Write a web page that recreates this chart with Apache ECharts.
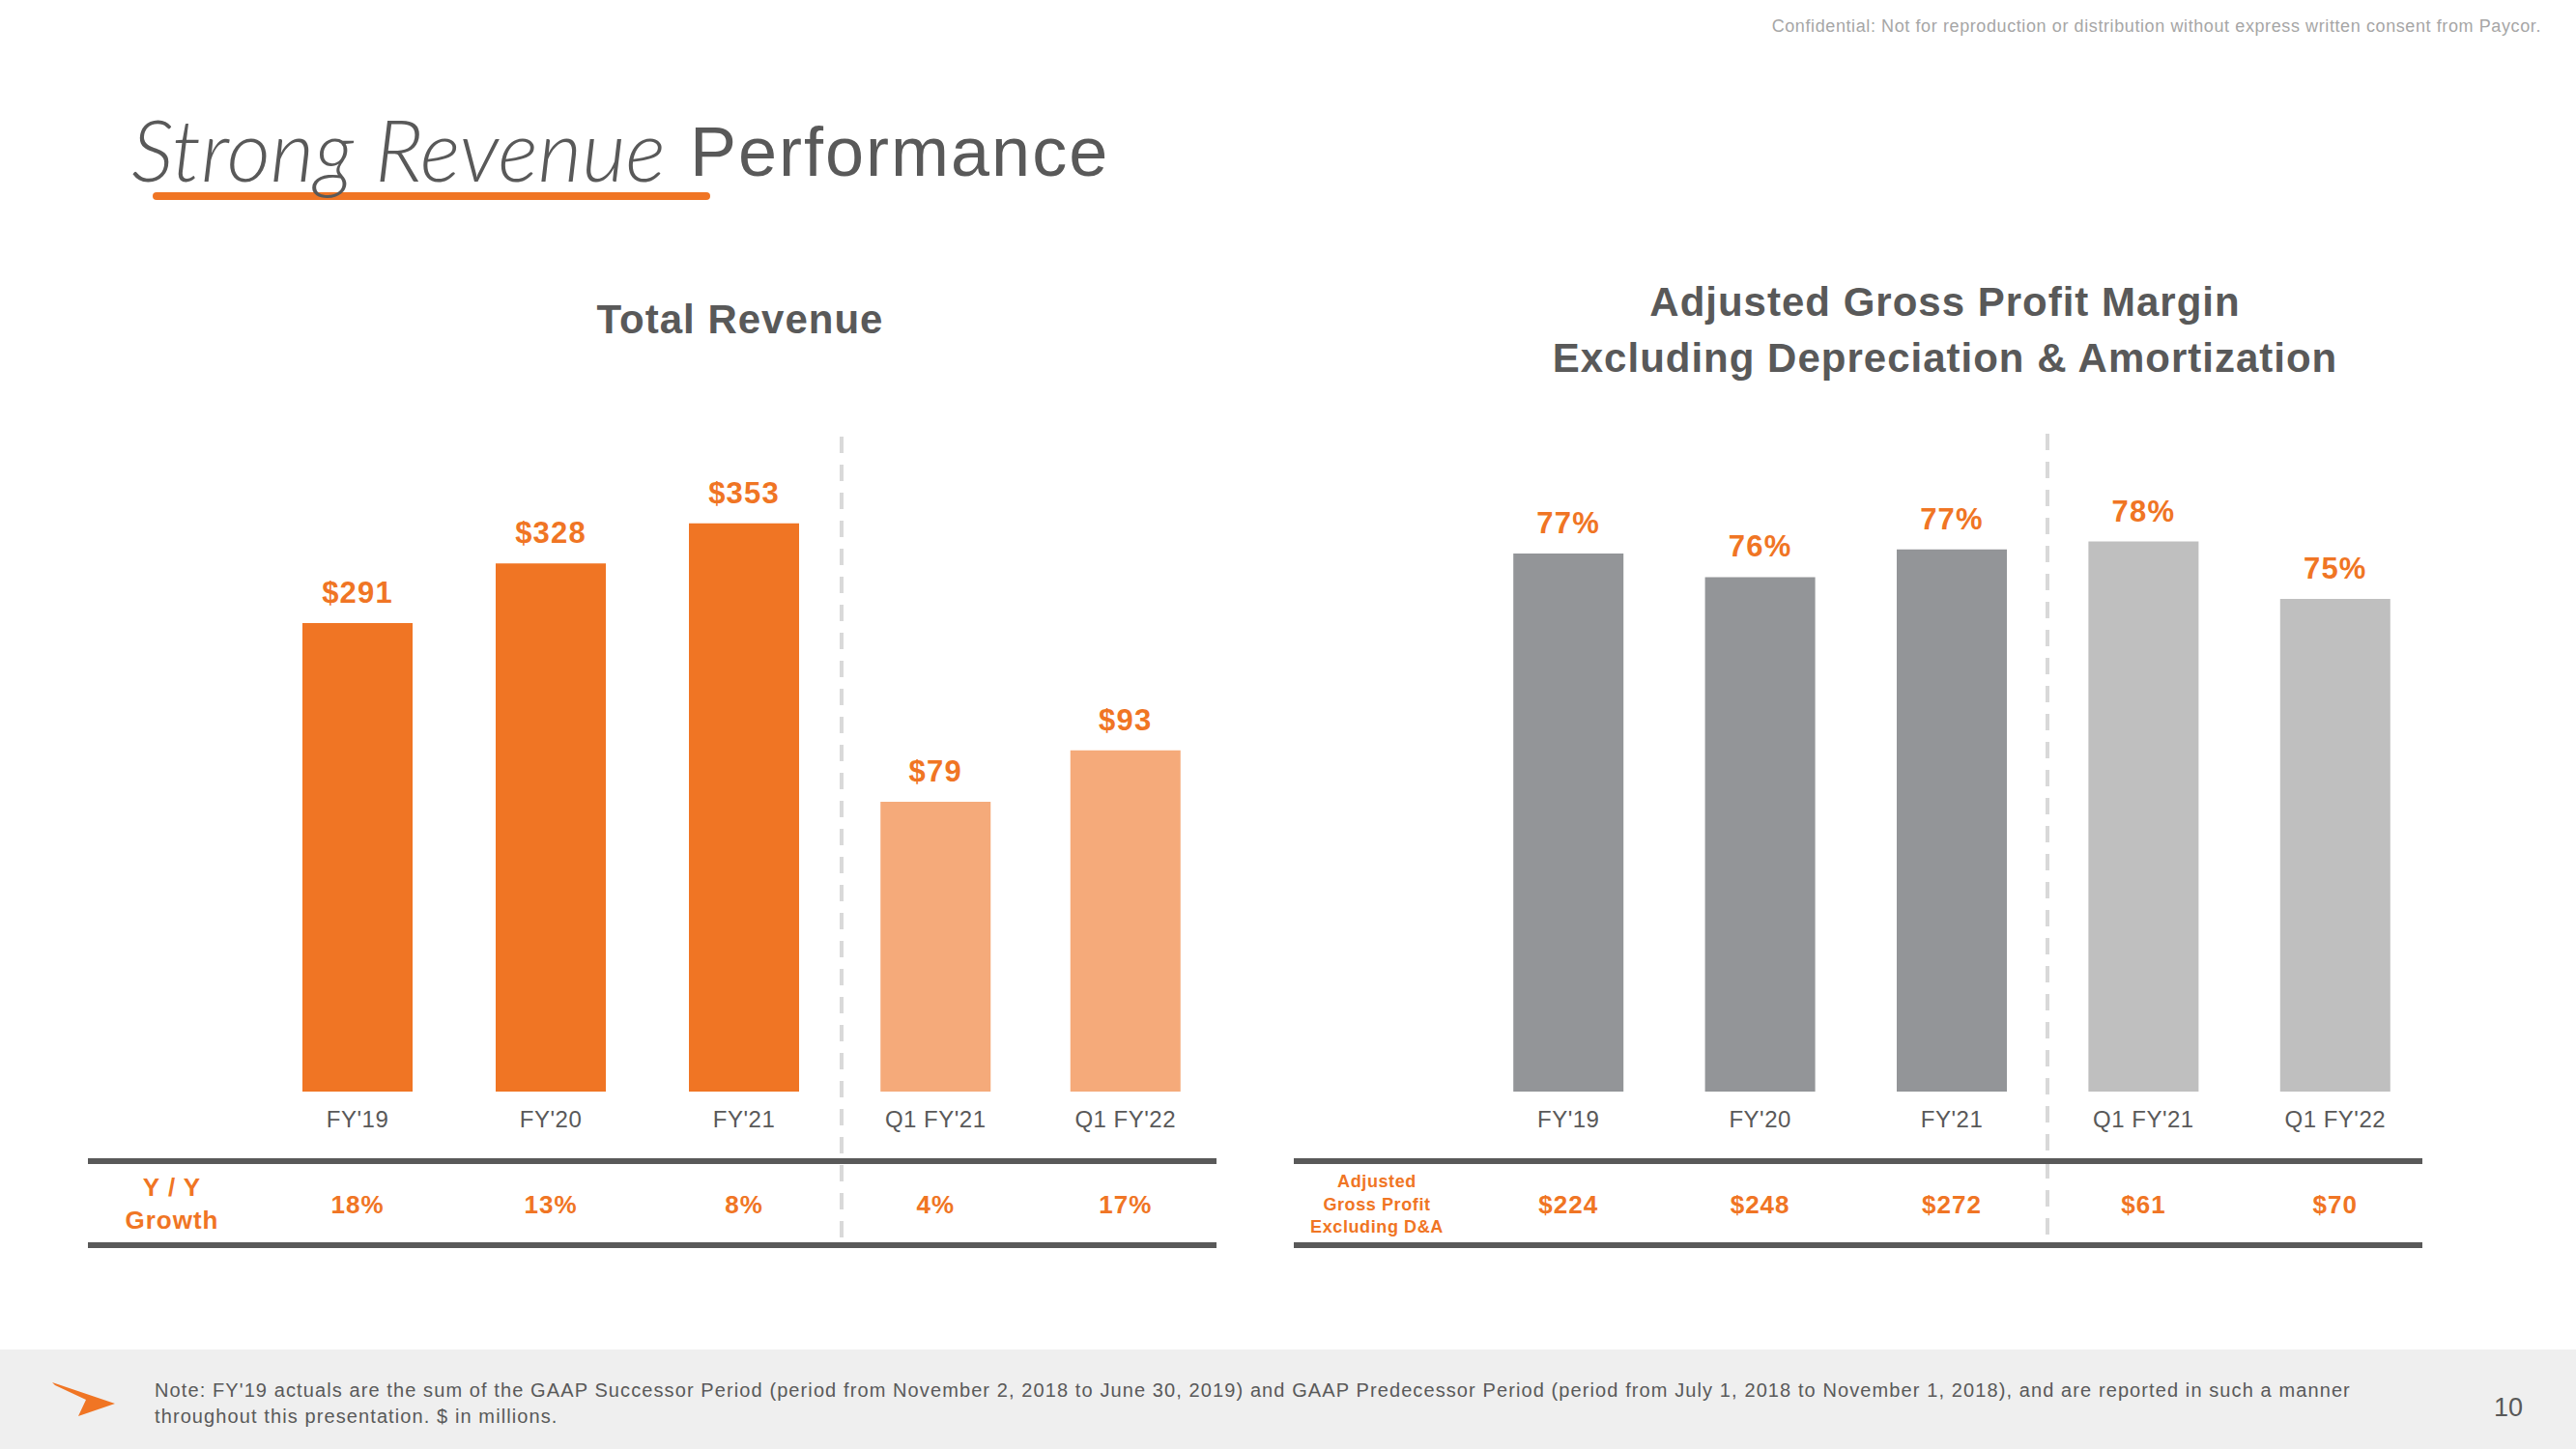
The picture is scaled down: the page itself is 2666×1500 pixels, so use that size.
<!DOCTYPE html>
<html>
<head>
<meta charset="utf-8">
<script src="https://cdn.jsdelivr.net/npm/echarts@6/dist/echarts.min.js"></script>
<style>
  html, body { margin: 0; padding: 0; background: #ffffff; }
  #chart { width: 2666px; height: 1500px; }
</style>
</head>
<body>
<div id="chart"></div>
<script>
// ---------------- data ----------------
const revCategoriesAnnual = ["FY'19", "FY'20", "FY'21"];
const revValuesAnnual = [291, 328, 353];
const revGrowthAnnual = ['18%', '13%', '8%'];

const revCategoriesQuarter = ["Q1 FY'21", "Q1 FY'22"];
const revValuesQuarter = [79, 93];
const revGrowthQuarter = ['4%', '17%'];

const marginCategories = ["FY'19", "FY'20", "FY'21", "Q1 FY'21", "Q1 FY'22"];
const marginValues = [77.2, 76.0, 77.4, 77.8, 74.9];   // % (labels shown rounded)
const grossProfitValues = [224, 248, 272, 61, 70];      // $M, adjusted gross profit excl. D&A

const noteLines = [
  "Note: FY'19 actuals are the sum of the GAAP Successor Period (period from November 2, 2018 to June 30, 2019) and GAAP Predecessor Period (period from July 1, 2018 to November 1, 2018), and are reported in such a manner",
  "throughout this presentation. $ in millions."
];

// ---------------- styles ----------------
const FONT = '"Liberation Sans", Arial, Helvetica, sans-serif';
const ORANGE = '#F07524';
const ORANGE_LIGHT = '#F5AA7A';
const GRAY_DARK_BAR = '#939598';
const GRAY_LIGHT_BAR = '#BFBFBF';
const TEXT_GRAY = '#595959';

const chart = echarts.init(document.getElementById('chart'), null, { renderer: 'svg', width: 2666, height: 1500 });

function catAxis(gridIndex, data, kind) {
  const isCat = kind === 'cat';
  return {
    type: 'category',
    gridIndex: gridIndex,
    position: 'bottom',
    data: data,
    axisLine: { show: false },
    axisTick: { show: false },
    splitLine: { show: false },
    axisLabel: isCat ? {
      interval: 0, margin: 16, fontSize: 24, color: TEXT_GRAY, fontFamily: FONT
    } : {
      interval: 0, margin: 104, fontSize: 26, fontWeight: 'bold', color: ORANGE, fontFamily: FONT
    }
  };
}
function valAxis(gridIndex, min, max) {
  return {
    type: 'value', gridIndex: gridIndex, min: min, max: max, show: false,
    splitLine: { show: false }
  };
}
const barLabel = (fmt) => ({
  show: true, position: 'top', distance: 16,
  fontSize: 31, fontWeight: 'bold', color: ORANGE, fontFamily: FONT,
  formatter: fmt
});

function txt(x, y, text, font, fill, align, valign) {
  return {
    type: 'text', x: x, y: y, z: 10,
    style: {
      text: text, font: font, fill: fill,
      align: align || 'center', verticalAlign: valign || 'middle',
      textAlign: align || 'center', textVerticalAlign: valign || 'middle'
    }
  };
}
function line(x1, y1, x2, y2, stroke, w, dash, cap) {
  return {
    type: 'line', z: 5,
    shape: { x1: x1, y1: y1, x2: x2, y2: y2 },
    style: { stroke: stroke, lineWidth: w, lineDash: dash || null, lineCap: cap || 'butt' }
  };
}

const option = {
  animation: false,
  backgroundColor: '#ffffff',
  textStyle: { fontFamily: FONT },
  grid: [
    { left: 270, width: 600, top: 450, bottom: 370 },
    { left: 870, width: 393, top: 450, bottom: 370 },
    { left: 1524, width: 992, top: 450, bottom: 370 }
  ],
  xAxis: [
    catAxis(0, revCategoriesAnnual, 'cat'),
    catAxis(0, revGrowthAnnual, 'val'),
    catAxis(1, revCategoriesQuarter, 'cat'),
    catAxis(1, revGrowthQuarter, 'val'),
    catAxis(2, marginCategories, 'cat'),
    catAxis(2, grossProfitValues.map(v => '$' + v), 'val')
  ],
  yAxis: [
    valAxis(0, 0, 408),
    valAxis(1, 0, 179),
    valAxis(2, 50, 83.2)
  ],
  series: [
    {
      name: 'Total Revenue (annual)', type: 'bar', xAxisIndex: 0, yAxisIndex: 0,
      data: revValuesAnnual, barWidth: 114,
      itemStyle: { color: ORANGE },
      label: barLabel(p => '$' + p.value)
    },
    {
      name: 'Total Revenue (Q1)', type: 'bar', xAxisIndex: 2, yAxisIndex: 1,
      data: revValuesQuarter, barWidth: 114,
      itemStyle: { color: ORANGE_LIGHT },
      label: barLabel(p => '$' + p.value)
    },
    {
      name: 'Adjusted Gross Profit Margin', type: 'bar', xAxisIndex: 4, yAxisIndex: 2,
      data: marginValues, barWidth: 114,
      itemStyle: { color: p => (p.dataIndex < 3 ? GRAY_DARK_BAR : GRAY_LIGHT_BAR) },
      label: barLabel(p => Math.round(p.value) + '%')
    }
  ],
  graphic: [
    // footer band
    { type: 'rect', z: 0, shape: { x: 0, y: 1397, width: 2666, height: 103 }, style: { fill: '#EFEFEF' } },
    // footer arrow
    { type: 'polygon', z: 5, shape: { points: [[54, 1431], [119, 1453], [81, 1466], [89, 1449], [57, 1434]] }, style: { fill: ORANGE } },
    // header
    txt(2630, 27, 'Confidential: Not for reproduction or distribution without express written consent from Paycor.', '18px ' + FONT, '#A6A6A6', 'right'),
    // slide title
    txt(136, 154, 'Strong Revenue', 'italic 300 88px Lato, ' + FONT, TEXT_GRAY, 'left'),
    line(162, 203, 731, 203, ORANGE, 8, null, 'round'),
    txt(714, 157, 'Performance', '72px ' + FONT, TEXT_GRAY, 'left'),
    // chart titles
    txt(766, 330, 'Total Revenue', 'bold 42px ' + FONT, TEXT_GRAY),
    txt(2013, 312, 'Adjusted Gross Profit Margin', 'bold 42px ' + FONT, TEXT_GRAY),
    txt(2013, 370, 'Excluding Depreciation & Amortization', 'bold 42px ' + FONT, TEXT_GRAY),
    // dashed dividers
    line(871, 452, 871, 1292, '#D9D9D9', 4, [17, 12]),
    line(2119, 449, 2119, 1292, '#D9D9D9', 4, [17, 12]),
    // table rules
    line(91, 1202, 1259, 1202, TEXT_GRAY, 6),
    line(91, 1289, 1259, 1289, TEXT_GRAY, 6),
    line(1339, 1202, 2507, 1202, TEXT_GRAY, 6),
    line(1339, 1289, 2507, 1289, TEXT_GRAY, 6),
    // table row headers
    txt(178, 1229, 'Y / Y', 'bold 26px ' + FONT, ORANGE),
    txt(178, 1263, 'Growth', 'bold 26px ' + FONT, ORANGE),
    txt(1425, 1223, 'Adjusted', 'bold 18px ' + FONT, ORANGE),
    txt(1425, 1247, 'Gross Profit', 'bold 18px ' + FONT, ORANGE),
    txt(1425, 1270, 'Excluding D&A', 'bold 18px ' + FONT, ORANGE),
    // footnote
    txt(160, 1439, noteLines[0], '20px ' + FONT, TEXT_GRAY, 'left'),
    txt(160, 1466, noteLines[1], '20px ' + FONT, TEXT_GRAY, 'left'),
    txt(2596, 1457, '10', '27px ' + FONT, TEXT_GRAY)
  ]
};
chart.setOption(option);

// letter-spacing like the original deck typography
const SPACING = { 72: 2, 42: 1, 31: 1.2, 27: 0, 26: 1, 24: 0.5, 20: 1.1, 18: 0.6 };
function spaceText() {
  document.querySelectorAll('#chart svg text').forEach(t => {
    const fs = Math.round(parseFloat(getComputedStyle(t).fontSize));
    if (SPACING[fs] !== undefined) t.style.letterSpacing = SPACING[fs] + 'px';
  });
}
chart.on('finished', spaceText);
spaceText();
setTimeout(spaceText, 50);
</script>
</body>
</html>
